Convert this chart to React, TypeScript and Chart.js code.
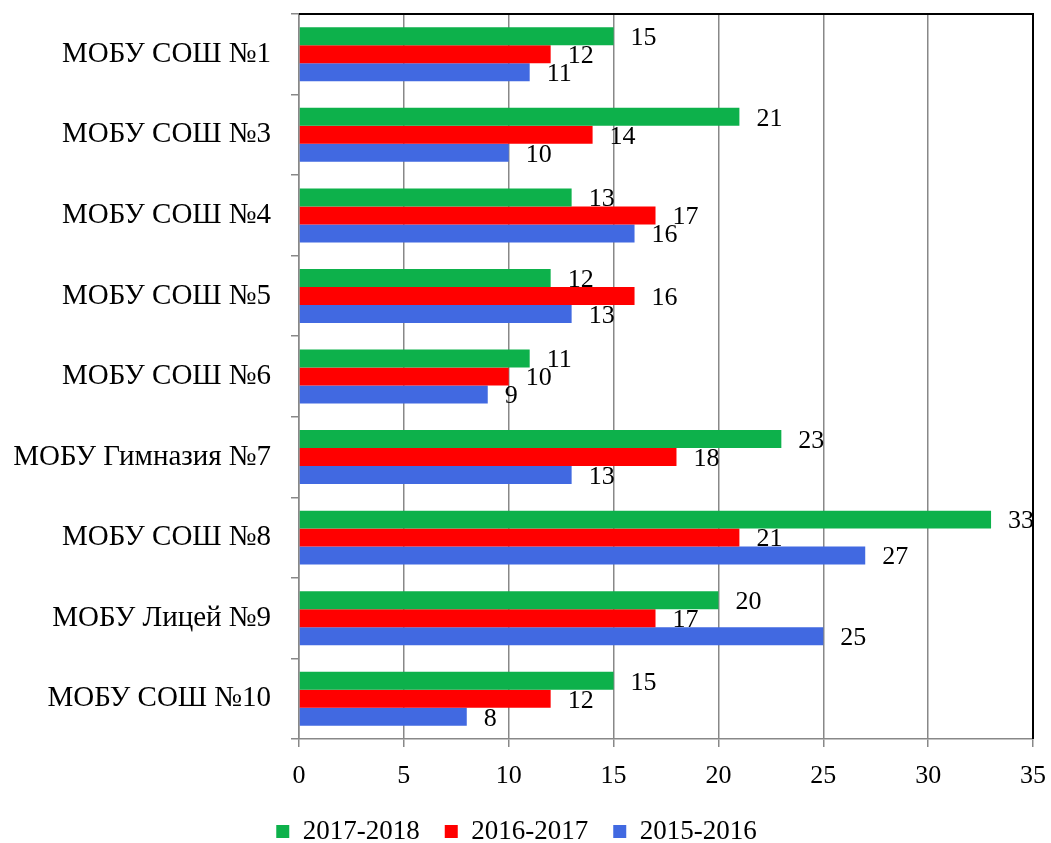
import React, { useEffect, useRef } from "react";
import { Chart, registerables } from "chart.js";

Chart.register(...registerables);

const categories = [
  "МОБУ СОШ №1",
  "МОБУ СОШ №3",
  "МОБУ СОШ №4",
  "МОБУ СОШ №5",
  "МОБУ СОШ №6",
  "МОБУ Гимназия №7",
  "МОБУ СОШ №8",
  "МОБУ Лицей №9",
  "МОБУ СОШ №10",
];
const series2017_2018 = [15, 21, 13, 12, 11, 23, 33, 20, 15];
const series2016_2017 = [12, 14, 17, 16, 10, 18, 21, 17, 12];
const series2015_2016 = [11, 10, 16, 13, 9, 13, 27, 25, 8];
const seriesLabels = ["2017-2018", "2016-2017", "2015-2016"];
const xTicks = [0, 5, 10, 15, 20, 25, 30, 35];

const FONT = "'Liberation Serif', 'Times New Roman', serif";

const valueLabels = {
  id: "valueLabels",
  afterDatasetsDraw(chart: any) {
    const ctx = chart.ctx;
    ctx.save();
    ctx.font = `26px ${FONT}`;
    ctx.fillStyle = "#000";
    ctx.textAlign = "left";
    ctx.textBaseline = "middle";
    chart.data.datasets.forEach((ds: any, di: number) => {
      const meta = chart.getDatasetMeta(di);
      meta.data.forEach((el: any, i: number) => {
        ctx.fillText(String(ds.data[i]), el.x + 17, el.y + 2);
      });
    });
    ctx.restore();
  },
};

const frame = {
  id: "frame",
  afterDraw(chart: any) {
    const { ctx, chartArea } = chart;
    ctx.save();
    ctx.strokeStyle = "#000";
    ctx.lineWidth = 2;
    ctx.beginPath();
    ctx.moveTo(chartArea.left, chartArea.top);
    ctx.lineTo(chartArea.right, chartArea.top);
    ctx.lineTo(chartArea.right, chartArea.bottom);
    ctx.stroke();
    ctx.restore();
  },
};

export default function App() {
  const ref = useRef<HTMLCanvasElement>(null);
  useEffect(() => {
    document.body.style.margin = "0";
    const chart = new Chart(ref.current as HTMLCanvasElement, {
      type: "bar",
      data: {
        labels: categories,
        datasets: [
          { label: seriesLabels[0], data: series2017_2018, backgroundColor: "#0DB14B" },
          { label: seriesLabels[1], data: series2016_2017, backgroundColor: "#FF0000" },
          { label: seriesLabels[2], data: series2015_2016, backgroundColor: "#4169E1" },
        ],
      },
      options: {
        indexAxis: "y",
        responsive: false,
        animation: false,
        devicePixelRatio: 1,
        layout: { padding: { top: 14, right: 18, left: 0, bottom: -12 } },
        datasets: { bar: { categoryPercentage: 0.67, barPercentage: 1 } },
        scales: {
          x: {
            min: 0,
            max: 35,
            afterBuildTicks(scale: any) {
              scale.ticks = xTicks.map((v) => ({ value: v }));
            },
            afterFit(scale: any) {
              scale.height = 54;
              scale.paddingLeft = 0;
              scale.paddingRight = 0;
            },
            grid: { color: "#888", lineWidth: 1.5, tickLength: 8, drawTicks: true },
            border: { color: "#888", width: 1.5 },
            ticks: { color: "#000", font: { family: FONT, size: 26 }, padding: 14, maxRotation: 0 },
          },
          y: {
            afterFit(scale: any) {
              scale.width = 299;
              scale.paddingTop = 0;
              scale.paddingBottom = 0;
            },
            grid: { drawOnChartArea: false, color: "#888", lineWidth: 1.5, tickLength: 8, offset: true },
            border: { color: "#888", width: 1.5 },
            ticks: { color: "#000", font: { family: FONT, size: 29 }, padding: 20 },
          },
        },
        plugins: {
          legend: {
            position: "bottom",
            labels: {
              boxWidth: 13,
              boxHeight: 13,
              padding: 25,
              color: "#000",
              font: { family: FONT, size: 27 },
            },
          },
          tooltip: { enabled: false },
        },
      },
      plugins: [valueLabels, frame],
    });
    return () => chart.destroy();
  }, []);
  return (
    <div style={{ width: 1051, height: 843 }}>
      <canvas ref={ref} width={1051} height={843} style={{ display: "block" }} />
    </div>
  );
}
